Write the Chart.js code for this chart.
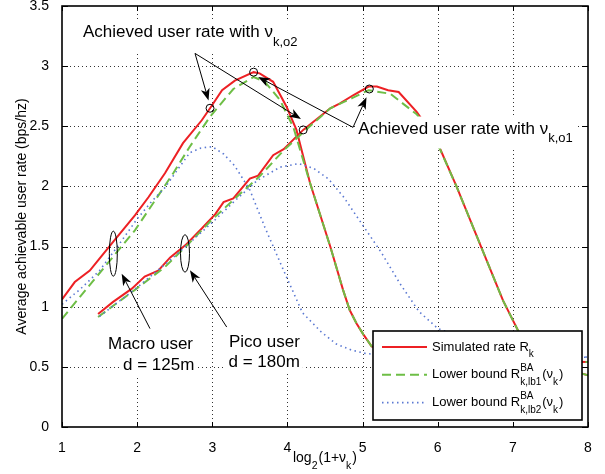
<!DOCTYPE html>
<html>
<head>
<meta charset="utf-8">
<script src="https://cdn.jsdelivr.net/npm/chart.js@4/dist/chart.umd.min.js"></script>
<style>
  html, body { margin: 0; padding: 0; background: #fff; }
  canvas { display: block; }
</style>
</head>
<body>
<canvas id="myChart" width="605" height="474"></canvas>
<script>
// values: x = log2(1+nu_k), y = rate (bps/hz)

// macro user, d = 125m
const macroSimX = [1, 1.17, 1.37, 1.48, 1.68, 1.97, 2.15, 2.37, 2.61, 2.86, 2.97, 3.13, 3.30, 3.55, 3.63, 3.81, 3.99, 4.12, 4.30, 4.57, 4.74, 4.83, 4.92, 5.01, 5.12, 5.5, 6, 7, 8];
const macroSimY = [1.06, 1.205, 1.30, 1.385, 1.54, 1.76, 1.91, 2.11, 2.36, 2.55, 2.65, 2.80, 2.88, 2.95, 2.94, 2.87, 2.66, 2.47, 2.03, 1.50, 1.14, 0.97, 0.86, 0.77, 0.67, 0.60, 0.57, 0.55, 0.54];
const macroLb1X = [1, 1.31, 1.64, 1.97, 2.24, 2.48, 2.70, 2.97, 3.28, 3.55, 3.70, 3.90, 4.08, 4.30, 4.57, 4.74, 4.83, 4.92, 5.01, 5.12, 5.5, 6, 7, 8];
const macroLb1Y = [0.90, 1.136, 1.385, 1.635, 1.885, 2.11, 2.33, 2.58, 2.81, 2.91, 2.87, 2.72, 2.49, 2.03, 1.50, 1.14, 0.97, 0.86, 0.77, 0.67, 0.60, 0.57, 0.55, 0.54];
const macroLb2X = [1, 1.25, 1.5, 1.75, 2.0, 2.2, 2.37, 2.55, 2.7, 2.85, 3.0, 3.15, 3.3, 3.5, 3.7, 3.95, 4.2, 4.45, 4.65, 4.85, 5.05, 5.5, 6, 7, 8];
const macroLb2Y = [1.02, 1.15, 1.30, 1.51, 1.73, 1.88, 1.99, 2.15, 2.28, 2.32, 2.33, 2.27, 2.17, 1.97, 1.66, 1.30, 0.95, 0.79, 0.69, 0.64, 0.61, 0.59, 0.58, 0.58, 0.58];

// pico user, d = 180m
const picoSimX = [1.48, 1.68, 1.93, 2.10, 2.28, 2.44, 2.64, 2.86, 3.04, 3.15, 3.28, 3.50, 3.61, 3.81, 3.95, 4.21, 4.57, 4.70, 4.88, 5.08, 5.19, 5.34, 5.48, 5.72, 5.9, 6.03, 6.25, 6.56, 6.87, 7.07, 7.3, 7.6, 8];
const picoSimY = [0.94, 1.04, 1.15, 1.25, 1.30, 1.41, 1.51, 1.65, 1.77, 1.87, 1.90, 2.065, 2.09, 2.26, 2.31, 2.47, 2.65, 2.69, 2.76, 2.83, 2.83, 2.80, 2.785, 2.62, 2.46, 2.315, 2.0, 1.525, 1.05, 0.80, 0.62, 0.50, 0.43];
const picoLb1X = [1.48, 1.97, 2.37, 2.68, 2.99, 3.32, 3.64, 3.95, 4.21, 4.57, 4.88, 5.08, 5.37, 5.72, 5.9, 6.03, 6.25, 6.56, 6.87, 7.07, 7.3, 7.6, 8];
const picoLb1Y = [0.915, 1.14, 1.33, 1.52, 1.72, 1.91, 2.09, 2.30, 2.45, 2.65, 2.74, 2.80, 2.77, 2.60, 2.45, 2.31, 2.0, 1.525, 1.05, 0.80, 0.62, 0.50, 0.43];
const picoLb2X = [1.5, 2, 2.5, 3, 3.3, 3.6, 3.9, 4.15, 4.35, 4.55, 4.75, 5.0, 5.25, 5.5, 5.75, 6.0, 6.5, 7, 8];
const picoLb2Y = [0.92, 1.16, 1.42, 1.70, 1.88, 2.05, 2.16, 2.19, 2.15, 2.06, 1.91, 1.68, 1.45, 1.19, 0.96, 0.82, 0.70, 0.63, 0.58];

// optimum points (circles)
const optX = [2.97, 3.55, 4.21, 5.09];
const optY = [2.65, 2.95, 2.47, 2.81];

const xMin = 1, xMax = 8, xStep = 1;
const yMin = 0, yMax = 3.5, yStep = 0.5;

const FONT = '"Liberation Sans", Arial, Helvetica, sans-serif';
const RED = 'rgb(237,32,36)';
const GREEN = 'rgb(110,190,70)';
const BLUE = 'rgb(90,120,210)';

function pts(xs, ys) {
    return xs.map(function (x, i) { return { x: x, y: ys[i] }; });
}

function lineSet(xs, ys, kind) {
    const ds = { data: pts(xs, ys), pointRadius: 0, borderWidth: 2, fill: false, tension: 0 };
    if (kind === 'sim') {
        ds.borderColor = RED;
    } else if (kind === 'lb1') {
        ds.borderColor = GREEN;
        ds.borderDash = [9, 5];
    } else {
        ds.borderColor = BLUE;
        ds.borderWidth = 1.6;
        ds.borderDash = [1.5, 3.5];
    }
    return ds;
}

// draw text with sub/superscripts, parts are strings or {sub, sup}
function rich(ctx, x, y, parts, size, small, draw) {
    let cx = x;
    parts.forEach(function (p) {
        if (typeof p === 'string') {
            ctx.font = size + 'px ' + FONT;
            if (draw) ctx.fillText(p, cx, y);
            cx += ctx.measureText(p).width;
        } else {
            ctx.font = small + 'px ' + FONT;
            let w = 0;
            if (p.sup) {
                if (draw) ctx.fillText(p.sup, cx, y - size * 0.55);
                w = ctx.measureText(p.sup).width;
            }
            if (p.sub) {
                if (draw) ctx.fillText(p.sub, cx, y + size * 0.5);
                w = Math.max(w, ctx.measureText(p.sub).width);
            }
            cx += w + 1;
        }
    });
    return cx - x;
}

function arrow(ctx, x1, y1, x2, y2) {
    const a = Math.atan2(y2 - y1, x2 - x1);
    const L = 12, W = 4.5;
    const c = Math.cos(a), s = Math.sin(a);
    const bx = x2 - L * c, by = y2 - L * s;
    const nx = x2 - L * 0.72 * c, ny = y2 - L * 0.72 * s;
    ctx.beginPath();
    ctx.moveTo(x1, y1);
    ctx.lineTo(nx, ny);
    ctx.stroke();
    ctx.beginPath();
    ctx.moveTo(x2, y2);
    ctx.lineTo(bx + W * s, by - W * c);
    ctx.lineTo(nx, ny);
    ctx.lineTo(bx - W * s, by + W * c);
    ctx.closePath();
    ctx.fill();
}

const annotations = {
    id: 'annotations',
    beforeDatasetsDraw(chart) {
        // dotted matlab style grid
        const ctx = chart.ctx;
        const a = chart.chartArea;
        const xs = chart.scales.x, ys = chart.scales.y;
        ctx.save();
        ctx.strokeStyle = 'rgba(0,0,0,0.8)';
        ctx.lineWidth = 1;
        ctx.setLineDash([1, 3]);
        ctx.beginPath();
        for (let v = xMin + xStep; v < xMax; v += xStep) {
            const p = Math.round(xs.getPixelForValue(v)) + 0.5;
            ctx.moveTo(p, a.top); ctx.lineTo(p, a.bottom);
        }
        for (let v = yMin + yStep; v < yMax - 1e-9; v += yStep) {
            const p = Math.round(ys.getPixelForValue(v)) + 0.5;
            ctx.moveTo(a.left, p); ctx.lineTo(a.right, p);
        }
        ctx.stroke();
        ctx.restore();
    },
    afterDatasetsDraw(chart) {
        const ctx = chart.ctx;
        const xs = chart.scales.x, ys = chart.scales.y;
        const X = v => xs.getPixelForValue(v);
        const Y = v => ys.getPixelForValue(v);
        const area = chart.chartArea;

        ctx.save();
        ctx.textBaseline = 'alphabetic';
        ctx.textAlign = 'left';

        // text labels with white background
        const labels = [
            { x: 1.279, y: 3.240, parts: ['Achieved user rate with \u03bd', { sub: 'k,o2' }] },
            { x: 4.943, y: 2.440, parts: ['Achieved user rate with \u03bd', { sub: 'k,o1' }] },
            { x: 1.612, y: 0.646, parts: ['Macro user'] },
            { x: 1.812, y: 0.472, parts: ['d = 125m'] },
            { x: 3.222, y: 0.665, parts: ['Pico user'] },
            { x: 3.216, y: 0.499, parts: ['d = 180m'] }
        ];
        labels.forEach(function (l) {
            const w = rich(ctx, X(l.x), Y(l.y), l.parts, 17, 13, false);
            const hasSub = l.parts.length > 1;
            ctx.fillStyle = '#fff';
            ctx.fillRect(X(l.x) - 3, Y(l.y) - 17, w + 6, hasSub ? 32 : 22);
        });
        ctx.fillStyle = '#000';
        labels.forEach(function (l) {
            rich(ctx, X(l.x), Y(l.y), l.parts, 17, 13, true);
        });

        // arrows
        ctx.strokeStyle = '#000';
        ctx.fillStyle = '#000';
        ctx.lineWidth = 1;
        const arrows = [
            [2.770, 3.106, 2.95, 2.715],
            [2.770, 3.106, 4.18, 2.56],
            [4.873, 2.491, 5.052, 2.741],
            [4.873, 2.491, 3.61, 2.91],
            [2.171, 0.818, 1.794, 1.275],
            [3.192, 0.831, 2.703, 1.303]
        ];
        arrows.forEach(function (a) {
            arrow(ctx, X(a[0]), Y(a[1]), X(a[2]), Y(a[3]));
        });

        // ellipses around user groups
        [[1.683, 1.441, 4, 22.5], [2.637, 1.443, 4.5, 18.8]].forEach(function (e) {
            ctx.beginPath();
            ctx.ellipse(X(e[0]), Y(e[1]), e[2], e[3], 0, 0, Math.PI * 2);
            ctx.stroke();
        });

        // legend
        const lw = 209, lh = 89;
        const lx = area.right - 6 - lw, ly = area.bottom - 7 - lh;
        ctx.fillStyle = '#fff';
        ctx.fillRect(lx, ly, lw, lh);
        ctx.lineWidth = 1.6;
        ctx.strokeStyle = '#000';
        ctx.strokeRect(lx, ly, lw, lh);
        const rows = [
            { color: RED, dash: [], width: 2, parts: ['Simulated rate R', { sub: 'k' }] },
            { color: GREEN, dash: [9, 5], width: 2, parts: ['Lower bound R', { sup: 'BA', sub: 'k,lb1' }, '(\u03bd', { sub: 'k' }, ')'] },
            { color: BLUE, dash: [1.5, 3.5], width: 1.6, parts: ['Lower bound R', { sup: 'BA', sub: 'k,lb2' }, '(\u03bd', { sub: 'k' }, ')'] }
        ];
        rows.forEach(function (r, i) {
            const yy = ly + 16 + i * 27.8;
            ctx.beginPath();
            ctx.setLineDash(r.dash);
            ctx.strokeStyle = r.color;
            ctx.lineWidth = r.width;
            ctx.moveTo(lx + 9, yy);
            ctx.lineTo(lx + 54, yy);
            ctx.stroke();
            ctx.setLineDash([]);
            ctx.fillStyle = '#000';
            rich(ctx, lx + 59, yy + 3.5, r.parts, 13, 10, true);
        });

        ctx.restore();
    },
    afterDraw(chart) {
        const ctx = chart.ctx;
        const a = chart.chartArea;
        const xs = chart.scales.x, ys = chart.scales.y;
        ctx.save();
        // axes box with inward ticks
        ctx.strokeStyle = '#000';
        ctx.lineWidth = 1.6;
        ctx.strokeRect(a.left, a.top, a.right - a.left, a.bottom - a.top);
        ctx.lineWidth = 1;
        ctx.beginPath();
        for (let v = xMin; v <= xMax; v += xStep) {
            const p = Math.round(xs.getPixelForValue(v)) + 0.5;
            ctx.moveTo(p, a.bottom); ctx.lineTo(p, a.bottom - 5);
            ctx.moveTo(p, a.top); ctx.lineTo(p, a.top + 5);
        }
        for (let v = yMin; v <= yMax + 1e-9; v += yStep) {
            const p = Math.round(ys.getPixelForValue(v)) + 0.5;
            ctx.moveTo(a.left, p); ctx.lineTo(a.left + 6, p);
            ctx.moveTo(a.right, p); ctx.lineTo(a.right - 6, p);
        }
        ctx.stroke();

        // axis titles
        ctx.fillStyle = '#000';
        ctx.textBaseline = 'alphabetic';
        const xt = ['log', { sub: '2' }, '(1+\u03bd', { sub: 'k' }, ')'];
        const w = rich(ctx, 0, 0, xt, 14, 10.5, false);
        rich(ctx, (a.left + a.right) / 2 - w / 2, 462, xt, 14, 10.5, true);

        ctx.translate(22, (a.top + a.bottom) / 2);
        ctx.rotate(-Math.PI / 2);
        ctx.textAlign = 'center';
        ctx.textBaseline = 'middle';
        ctx.font = '14px ' + FONT;
        ctx.fillText('Average achievable user rate (bps/hz)', 0, 0);
        ctx.restore();
    }
};

const config = {
    type: 'line',
    data: {
        datasets: [
            { data: pts(optX, optY), showLine: false, pointRadius: 4, pointStyle: 'circle',
              pointBorderColor: '#000', pointBackgroundColor: 'rgba(0,0,0,0)', pointBorderWidth: 1 },
            lineSet(macroLb2X, macroLb2Y, 'lb2'),
            lineSet(picoLb2X, picoLb2Y, 'lb2'),
            lineSet(macroLb1X, macroLb1Y, 'lb1'),
            lineSet(picoLb1X, picoLb1Y, 'lb1'),
            lineSet(macroSimX, macroSimY, 'sim'),
            lineSet(picoSimX, picoSimY, 'sim')
        ]
    },
    options: {
        responsive: false,
        animation: false,
        layout: { padding: { top: 6, right: 17, left: 0, bottom: 0 } },
        plugins: { legend: { display: false }, tooltip: { enabled: false } },
        scales: {
            x: {
                type: 'linear', min: xMin, max: xMax,
                ticks: { stepSize: xStep, padding: 5, maxRotation: 0, color: '#000', font: { family: FONT, size: 14 },
                         callback: v => String(v) },
                grid: { display: false },
                border: { display: false },
                afterFit: function (s) { s.height = 47; s.paddingLeft = 0; s.paddingRight = 0; }
            },
            y: {
                min: yMin, max: yMax,
                ticks: { stepSize: yStep, padding: 5, color: '#000', font: { family: FONT, size: 14 },
                         callback: v => String(Math.round(v * 10) / 10) },
                grid: { display: false },
                border: { display: false },
                afterFit: function (s) { s.width = 62; s.paddingTop = 0; s.paddingBottom = 0; }
            }
        }
    },
    plugins: [annotations]
};

const myChart = new Chart(document.getElementById('myChart'), config);
</script>
</body>
</html>
